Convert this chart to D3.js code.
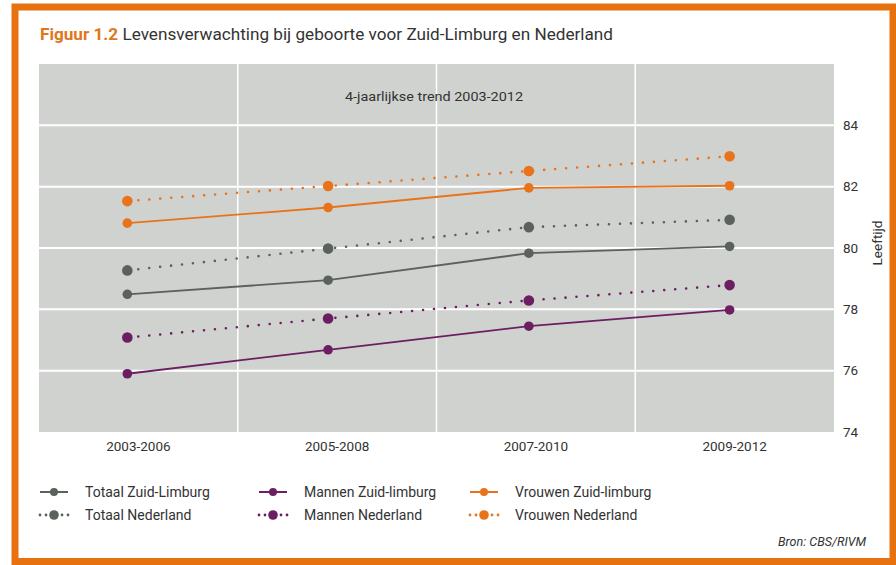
<!DOCTYPE html>
<html><head><meta charset="utf-8">
<script src="https://cdn.jsdelivr.net/npm/d3@7"></script>
<style>body{margin:0;background:#fff}svg{display:block}text{font-family:"Roboto","DejaVu Sans",sans-serif}</style>
</head><body>
<svg id="c" width="896" height="565"></svg>
<script>
const categories = ["2003-2006","2005-2008","2007-2010","2009-2012"];
const totaalZL  = [78.49, 78.95, 79.83, 80.05];
const totaalNL  = [79.27, 79.98, 80.68, 80.92];
const mannenZL  = [75.90, 76.68, 77.45, 77.98];
const mannenNL  = [77.08, 77.70, 78.29, 78.79];
const vrouwenZL = [80.81, 81.32, 81.96, 82.03];
const vrouwenNL = [81.53, 82.02, 82.51, 82.99];
const yTicks = [74, 76, 78, 80, 82, 84];
const seriesNames = ["Totaal Zuid-Limburg","Totaal Nederland","Mannen Zuid-limburg","Mannen Nederland","Vrouwen Zuid-limburg","Vrouwen Nederland"];

const GRAY = "#5b625c", PURPLE = "#6b1f62", ORANGE = "#e8731a";
const series = [
  {name: seriesNames[0], values: totaalZL, color: GRAY, dotted: false},
  {name: seriesNames[1], values: totaalNL, color: GRAY, dotted: true},
  {name: seriesNames[2], values: mannenZL, color: PURPLE, dotted: false},
  {name: seriesNames[3], values: mannenNL, color: PURPLE, dotted: true},
  {name: seriesNames[4], values: vrouwenZL, color: ORANGE, dotted: false},
  {name: seriesNames[5], values: vrouwenNL, color: ORANGE, dotted: true}
];

const svg = d3.select("#c");
svg.append("rect").attr("x",15).attr("y",7).attr("width",878).attr("height",554.5)
  .attr("fill","#fff").attr("stroke","#e8710f").attr("stroke-width",7);

const t = svg.append("text").attr("x",40).attr("y",40).attr("font-size",16.5).attr("fill","#333")
  .attr("textLength",573).attr("lengthAdjust","spacingAndGlyphs");
t.append("tspan").attr("fill","#e0761e").attr("font-weight","bold").text("Figuur 1.2");
t.append("tspan").text(" Levensverwachting bij geboorte voor Zuid-Limburg en Nederland");

const L = 39, R = 834, T = 64, B = 432;
const band = d3.scaleBand().domain(categories).range([L, R]);
const x = d3.scaleLinear().domain([-0.44, 3.52]).range([L, R]);
const y = d3.scaleLinear().domain([74, 86]).range([B, T]);

svg.append("rect").attr("x",L).attr("y",T).attr("width",R-L).attr("height",B-T).attr("fill","#d0d2cf");

svg.selectAll(".hg").data(yTicks.slice(1)).join("line")
  .attr("x1",L).attr("x2",R).attr("y1",d=>y(d)).attr("y2",d=>y(d))
  .attr("stroke","#fff").attr("stroke-width",2);
svg.selectAll(".vg").data(categories.slice(1)).join("line")
  .attr("x1",d=>band(d)).attr("x2",d=>band(d)).attr("y1",T).attr("y2",B)
  .attr("stroke","#fff").attr("stroke-width",1.5);

const yAxis = d3.axisRight(y).tickValues(yTicks).tickSize(0).tickPadding(0);
const ga = svg.append("g").attr("transform",`translate(${843},0)`).call(yAxis);
ga.select(".domain").remove();
ga.selectAll("text").attr("font-size",13.5).attr("fill","#333").attr("font-family","Roboto, sans-serif").attr("dy","0.32em");
svg.append("text").attr("transform","translate(882,243) rotate(-90)").attr("text-anchor","middle")
  .attr("font-size",13.5).attr("fill","#333").text("Leeftijd");

const xAxis = d3.axisBottom(band).tickSize(0).tickPadding(0);
const gx = svg.append("g").attr("transform",`translate(0,${441})`).call(xAxis);
gx.select(".domain").remove();
gx.selectAll("text").attr("font-size",13.5).attr("fill","#333").attr("font-family","Roboto, sans-serif");

svg.append("text").attr("x",434).attr("y",101).attr("text-anchor","middle").attr("font-size",13.5)
  .attr("textLength",178).attr("lengthAdjust","spacingAndGlyphs")
  .attr("fill","#333").text("4-jaarlijkse trend 2003-2012");

const line = d3.line().x((d,i)=>x(i)).y(d=>y(d));
series.forEach(s=>{
  svg.append("path").attr("d",line(s.values)).attr("fill","none").attr("stroke",s.color)
    .attr("stroke-width", s.dotted ? 2.6 : 1.8)
    .attr("stroke-linecap", s.dotted ? "round" : "butt")
    .attr("stroke-dasharray", s.dotted ? "0 11" : null);
  svg.selectAll(null).data(s.values).join("circle")
    .attr("cx",(d,i)=>x(i)).attr("cy",d=>y(d)).attr("r", s.dotted ? 5.3 : 4.8).attr("fill",s.color);
});

const cols = [40, 259, 470];
series.forEach((s,k)=>{
  const cx = cols[Math.floor(k/2)], cy = k%2 === 0 ? 492 : 515;
  const g = svg.append("g");
  if (s.dotted) {
    [0,6,22,28].forEach(dx=>g.append("circle").attr("cx",cx+dx).attr("cy",cy).attr("r",1.4).attr("fill",s.color));
    g.append("circle").attr("cx",cx+14).attr("cy",cy).attr("r",4.8).attr("fill",s.color);
  } else {
    g.append("line").attr("x1",cx).attr("x2",cx+28).attr("y1",cy).attr("y2",cy).attr("stroke",s.color).attr("stroke-width",2);
    g.append("circle").attr("cx",cx+14).attr("cy",cy).attr("r",4).attr("fill",s.color);
  }
  g.append("text").attr("x",cx+45).attr("y",cy).attr("dy","0.35em").attr("font-size",14).attr("fill","#333").text(s.name);
});

svg.append("text").attr("x",866).attr("y",546).attr("text-anchor","end").attr("font-size",12.5)
  .attr("font-style","italic").attr("fill","#333").text("Bron: CBS/RIVM");
</script>
</body></html>
